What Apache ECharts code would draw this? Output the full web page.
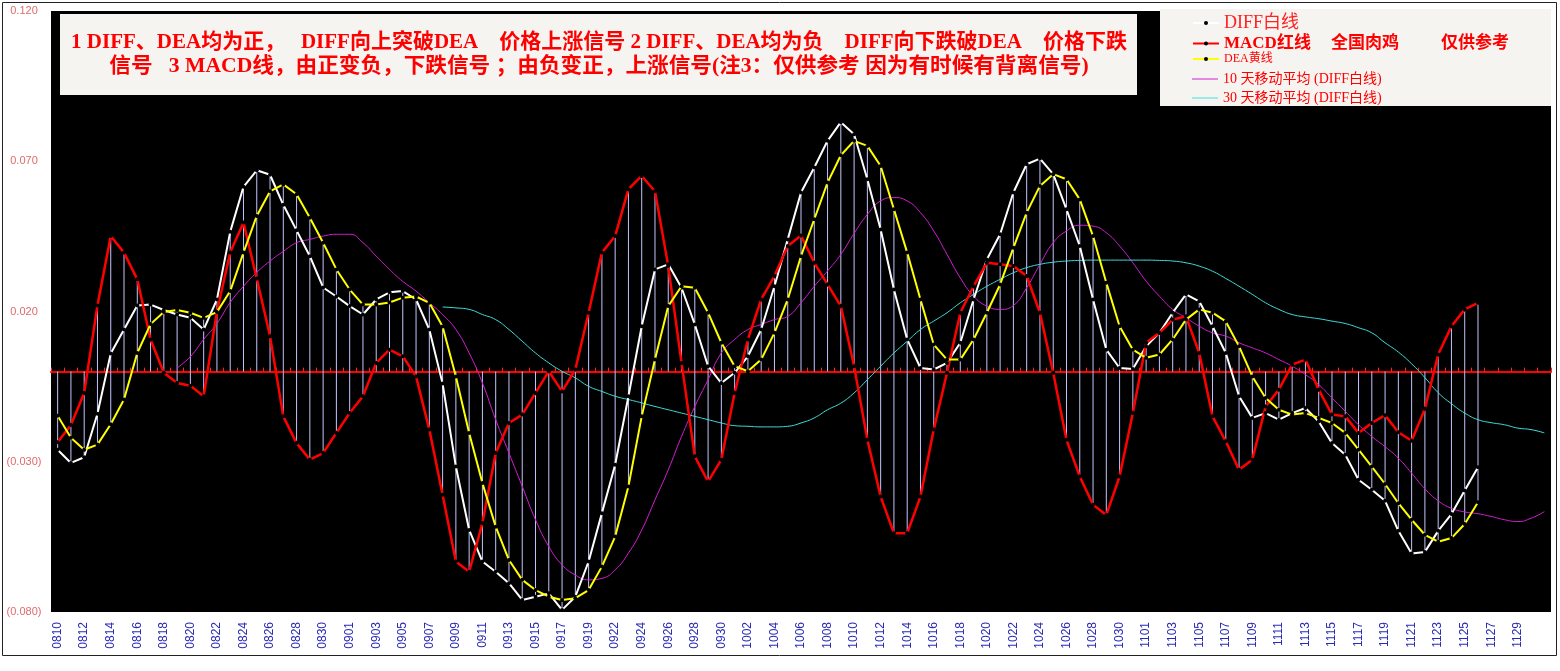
<!DOCTYPE html>
<html><head><meta charset="utf-8">
<script src="https://cdn.jsdelivr.net/npm/echarts@6/dist/echarts.min.js"></script>
<style>html,body{margin:0;padding:0;background:#fff}#c{width:1560px;height:671px}</style>
</head><body><div id="c"></div>
<script>
const categories = ['0810','0811','0812','0813','0814','0815','0816','0817','0818','0819','0820','0821','0822','0823','0824','0825','0826','0827','0828','0829','0830','0831',
'0901','0902','0903','0904','0905','0906','0907','0908','0909','0910','0911','0912','0913','0914','0915','0916','0917','0918','0919','0921',
'0922','0923','0924','0925','0926','0927','0928','0929','0930',
'1001','1002','1003','1004','1005','1006','1007','1008','1009','1010','1011','1012','1013','1014','1015','1016','1017','1018','1019','1020','1021','1022','1023','1024','1025','1026','1027','1028','1029','1030','1031',
'1101','1102','1103','1104','1105','1106','1107','1108','1109','1110','1111','1112','1113','1114','1115','1116','1117','1118','1119','1120','1121','1122','1123','1124','1125','1126','1127','1128','1129','1130',
'1201'];

const diff = [-0.026,-0.0304,-0.0285,-0.014,0.006,0.014,0.022,0.0223,0.0205,0.019,
 0.0179,0.014,0.024,0.0465,0.0615,0.067,0.0655,0.0555,0.047,0.0384,
 0.028,0.025,0.0218,0.019,0.024,0.0264,0.0268,0.024,0.014,-0.004,
 -0.0316,-0.0527,-0.0632,-0.0666,-0.0704,-0.076,-0.0749,-0.0738,-0.0793,-0.0749,
 -0.0632,-0.0471,-0.031,-0.0082,0.0151,0.034,0.0357,0.0279,0.0157,0.0018,
 -0.0038,-0.0004,0.0051,0.014,0.0284,0.044,0.0596,0.0679,0.0768,0.083,
 0.079,0.064,0.0473,0.0273,0.0107,0.0012,0.0007,0.0029,0.0096,0.024,
 0.0373,0.0457,0.0596,0.069,0.0709,0.0657,0.054,0.0418,0.024,0.0073,
 0.0012,0.0009,0.0084,0.0129,0.0196,0.0257,0.0234,0.0151,0.0062,-0.0082,
 -0.0154,-0.0138,-0.016,-0.0138,-0.0121,-0.0166,-0.0238,-0.0277,-0.036,-0.0393,
 -0.043,-0.053,-0.0605,-0.06,-0.053,-0.0474,-0.0396,-0.0318];

const macd = [-0.0235,-0.0178,-0.0071,0.022,0.0451,0.0396,0.0307,0.0107,-0.0004,-0.0038,
 -0.0047,-0.0082,0.02,0.0396,0.0496,0.031,0.0118,-0.0149,-0.0238,-0.0293,
 -0.0271,-0.0204,-0.0138,-0.0082,0.0029,0.0073,0.0051,-0.0016,-0.0193,-0.041,
 -0.0632,-0.0666,-0.0504,-0.0271,-0.0171,-0.0143,-0.0071,0.0001,-0.0066,0.0007,
 0.0196,0.0396,0.0451,0.0607,0.0651,0.060,0.0351,0.0029,-0.0282,-0.0366,
 -0.0293,-0.0071,0.0107,0.024,0.0318,0.0418,0.0453,0.0362,0.029,0.0218,
 0.0018,-0.0227,-0.0416,-0.0538,-0.0538,-0.0416,-0.0193,-0.0004,0.0196,0.0284,
 0.0362,0.0357,0.0351,0.0318,0.0196,-0.0004,-0.0227,-0.0349,-0.0443,-0.0477,
 -0.0349,-0.0138,0.0096,0.0129,0.0173,0.0184,0.0062,-0.0149,-0.0232,-0.0327,
 -0.0293,-0.0116,-0.006,0.0023,0.004,-0.006,-0.0143,-0.0149,-0.0204,-0.0171,
 -0.0145,-0.0202,-0.023,-0.0124,0.0057,0.0151,0.0207,0.0229];

const dea = [-0.0147,-0.022,-0.026,-0.0243,-0.0175,-0.0093,0.0062,0.0158,0.0198,0.0205,
 0.0196,0.0179,0.0198,0.0268,0.0396,0.0518,0.060,0.0623,0.059,0.0512,
 0.0429,0.034,0.0273,0.0223,0.0223,0.023,0.0246,0.025,0.0229,0.015,
 -0.0016,-0.0204,-0.0371,-0.0516,-0.0627,-0.0693,-0.0727,-0.0749,-0.076,-0.0754,
 -0.0727,-0.0649,-0.0549,-0.0382,-0.0149,0.004,0.0218,0.0284,0.0279,0.0196,
 0.0096,0.0018,0.0001,0.004,0.0129,0.024,0.0384,0.0507,0.0629,0.072,
 0.0768,0.0751,0.0684,0.054,0.0396,0.024,0.009,0.004,0.004,0.0107,
 0.0196,0.029,0.0412,0.0529,0.0618,0.0657,0.064,0.0573,0.0451,0.0296,
 0.0151,0.0073,0.0046,0.0057,0.0107,0.0173,0.0207,0.0196,0.0167,0.0084,
 -0.0016,-0.0088,-0.0127,-0.0143,-0.0138,-0.0154,-0.0171,-0.0204,-0.026,-0.0316,
 -0.0374,-0.0438,-0.0493,-0.0543,-0.0566,-0.0554,-0.0507,-0.0435];

// 10-day moving average of DIFF, starts at category index 9
const ma10Start = 9;
const ma10 = [0.0012,0.005,0.0107,0.016,0.023,0.0284,0.033,0.0368,0.040,0.0429,
 0.044,0.0451,0.0457,0.0457,0.0429,0.0384,0.034,0.030,0.0268,0.0229,
 0.019,0.014,0.0062,-0.0038,-0.016,-0.0271,-0.0382,-0.0493,-0.0582,-0.0643,
 -0.0677,-0.0693,-0.0688,-0.066,-0.0604,-0.0527,-0.0427,-0.0327,-0.0216,-0.0116,
 -0.0027,0.0062,0.0107,0.014,0.0157,0.0173,0.0184,0.0229,0.0284,0.0335,
 0.039,0.046,0.0523,0.0568,0.0579,0.0568,0.0529,0.0468,0.039,0.0312,
 0.0251,0.0218,0.0207,0.022,0.0279,0.0357,0.0429,0.0468,0.0487,0.0484,
 0.0462,0.0418,0.0362,0.0301,0.0251,0.0207,0.0179,0.0151,0.0129,0.0118,
 0.0096,0.0079,0.0062,0.004,0.0018,-0.001,-0.0043,-0.0088,-0.0132,-0.0177,
 -0.0216,-0.025,-0.0288,-0.0338,-0.039,-0.043,-0.0455,-0.0467,-0.0473,-0.0482,
 -0.0493,-0.0499,-0.0488,-0.0466];

// 30-day moving average of DIFF, starts at category index 29
const ma30Start = 29;
const ma30 = [0.0215,0.0212,0.0207,0.019,0.0173,0.014,0.0101,0.0062,0.0029,0.0001,
 -0.0021,-0.0049,-0.0066,-0.0082,-0.0093,-0.0104,-0.0116,-0.0127,-0.0138,-0.0149,
 -0.016,-0.0171,-0.018,-0.0182,-0.0184,-0.0184,-0.0182,-0.0171,-0.0154,-0.0127,
 -0.0105,-0.0071,-0.0027,0.0018,0.0062,0.0101,0.014,0.0168,0.0196,0.0229,
 0.0257,0.0284,0.0307,0.0329,0.0346,0.0357,0.0364,0.0368,0.037,0.0371,
 0.0371,0.0371,0.0371,0.0371,0.037,0.0368,0.0362,0.0351,0.0334,0.031,
 0.0284,0.0257,0.0229,0.0207,0.019,0.0182,0.0176,0.0168,0.016,0.0146,
 0.0129,0.0096,0.0065,0.0026,-0.002,-0.007,-0.0107,-0.0138,-0.016,-0.017,
 -0.0177,-0.0188,-0.0193,-0.0204];

const yMin = -0.08, yMax = 0.12, yStep = 0.05;
const titleLine1 = '1 DIFF、DEA均为正，   DIFF向上突破DEA    价格上涨信号 2 DIFF、DEA均为负    DIFF向下跌破DEA    价格下跌';
const titleLine2 = '信号   3 MACD线，由正变负，下跌信号 ；由负变正，上涨信号(注3：仅供参考 因为有时候有背离信号)';
const names = ['DIFF白线','MACD红线','DEA黄线','10 天移动平均 (DIFF白线)','30 天移动平均 (DIFF白线)'];
const legendExtra = ['全国肉鸡', '仅供参考'];

// drop lines: from zero to the highest / lowest of the three lines at each category
const dropHi = diff.map((d, i) => Math.max(0, d, macd[i], dea[i]));
const dropLo = diff.map((d, i) => Math.min(0, d, macd[i], dea[i]));
const pad = (start, arr) => new Array(start).fill('-').concat(arr);

const cjk = '"Liberation Serif","Noto Sans CJK SC"';
const chart = echarts.init(document.getElementById('c'));
chart.setOption({
  animation: false,
  backgroundColor: '#fff',
  grid: {left: 51, right: 9, top: 11, bottom: 59, show: true, backgroundColor: '#000', borderWidth: 0},
  xAxis: [
    {type: 'category', data: categories, boundaryGap: true, position: 'bottom',
     axisLine: {show: false, onZero: false}, axisTick: {show: false},
     axisLabel: {interval: i => i % 2 === 0 && i < categories.length - 1, rotate: 90, color: '#2a2ab8', fontSize: 12,
       fontFamily: 'Liberation Sans', margin: 10}},
    {type: 'category', data: categories, boundaryGap: true, position: 'bottom',
     axisLine: {show: true, onZero: true, lineStyle: {color: '#ff0000', width: 2}},
     axisTick: {show: true, inside: true, length: 4, interval: 0, lineStyle: {color: '#ff2020'}},
     axisLabel: {show: false}}
  ],
  yAxis: {type: 'value', min: yMin, max: yMax, interval: yStep,
    axisLine: {show: false}, axisTick: {show: false}, splitLine: {show: false},
    axisLabel: {color: '#e06a6a', fontSize: 11, fontFamily: 'Liberation Sans', align: 'center', margin: 27,
      formatter: v => v < -1e-9 ? '(' + Math.abs(v).toFixed(3) + ')' : Math.abs(v).toFixed(3)}},
  legend: [
    {data: [names[0]], left: 1192, top: 13, padding: 0, itemWidth: 26, itemHeight: 5, z: 20, selectedMode: false,
     textStyle: {color: '#f22', fontSize: 18, fontFamily: cjk, lineHeight: 20}},
    {data: [names[1]], left: 1192, top: 33, padding: 0, itemWidth: 26, itemHeight: 5, z: 20, selectedMode: false,
     formatter: n => '{a|' + n + '}{b|' + legendExtra[0] + '}{c|' + legendExtra[1] + '}',
     textStyle: {color: '#f00', fontSize: 17, fontWeight: 'bold', fontFamily: cjk, lineHeight: 21,
       rich: {a: {color: '#f00', fontSize: 17, fontWeight: 'bold', fontFamily: cjk, lineHeight: 21},
              b: {color: '#f00', fontSize: 17, fontWeight: 'bold', fontFamily: cjk, lineHeight: 21, padding: [0, 0, 0, 20]},
              c: {color: '#f00', fontSize: 17, fontWeight: 'bold', fontFamily: cjk, lineHeight: 21, padding: [0, 0, 0, 42]}}}},
    {data: [names[2]], left: 1192, top: 52, padding: 0, itemWidth: 26, itemHeight: 5, z: 20, selectedMode: false,
     textStyle: {color: '#f00', fontSize: 12, fontFamily: cjk, lineHeight: 14}},
    {data: [{name: names[3], icon: 'rect'}], left: 1192, top: 71, padding: 0, itemWidth: 26, itemHeight: 1, z: 20, selectedMode: false,
     textStyle: {color: '#f00', fontSize: 14, fontFamily: cjk, lineHeight: 16}},
    {data: [{name: names[4], icon: 'rect'}], left: 1192, top: 90, padding: 0, itemWidth: 26, itemHeight: 1, z: 20, selectedMode: false,
     textStyle: {color: '#f00', fontSize: 14, fontFamily: cjk, lineHeight: 16}}
  ],
  graphic: [
    {type: 'rect', shape: {x: 60, y: 14, width: 1077, height: 81}, style: {fill: '#f6f4f1'}, z: 10, silent: true},
    {type: 'rect', shape: {x: 1160, y: 9, width: 391, height: 97}, style: {fill: '#f6f4f1'}, z: 10, silent: true},
    {type: 'text', x: 599, y: 43, scaleX: 1.0, z: 11, silent: true,
     style: {text: titleLine1, align: 'center', verticalAlign: 'middle', textAlign: 'center', textVerticalAlign: 'middle',
       font: 'bold 21px ' + cjk, fill: '#ff0000'}},
    {type: 'text', x: 599, y: 67, scaleX: 1.03, z: 11, silent: true,
     style: {text: titleLine2, align: 'center', verticalAlign: 'middle', textAlign: 'center', textVerticalAlign: 'middle',
       font: 'bold 21px ' + cjk, fill: '#ff0000'}},
    {type: 'rect', shape: {x: 2.5, y: 2.5, width: 1554, height: 653}, style: {fill: 'none', stroke: '#222', lineWidth: 1}, z: 12, silent: true}
  ],
  series: [
    {type: 'bar', data: dropHi, barWidth: 1, barGap: '-100%', itemStyle: {color: '#c4c4ff'}, silent: true, z: 1},
    {type: 'bar', data: dropLo, barWidth: 1, barGap: '-100%', itemStyle: {color: '#c4c4ff'}, silent: true, z: 1},
    {name: names[3], type: 'line', data: pad(ma10Start, ma10), smooth: true, symbol: 'none', z: 2,
     lineStyle: {color: '#d21ed2', width: 1}, itemStyle: {color: '#d21ed2'}},
    {name: names[4], type: 'line', data: pad(ma30Start, ma30), smooth: true, symbol: 'none', z: 2,
     lineStyle: {color: '#3ee0e0', width: 1}, itemStyle: {color: '#3ee0e0'}},
    {name: names[0], type: 'line', data: diff, symbol: 'circle', symbolSize: 4, showAllSymbol: true, z: 3,
     lineStyle: {color: '#ffffff', width: 2}, itemStyle: {color: '#000'}},
    {name: names[1], type: 'line', data: macd, symbol: 'circle', symbolSize: 4, showAllSymbol: true, z: 3,
     lineStyle: {color: '#ff0000', width: 2.5}, itemStyle: {color: '#000'}},
    {name: names[2], type: 'line', data: dea, symbol: 'circle', symbolSize: 4, showAllSymbol: true, z: 4,
     lineStyle: {color: '#ffff00', width: 2}, itemStyle: {color: '#000'}}
  ]
});
</script></body></html>
